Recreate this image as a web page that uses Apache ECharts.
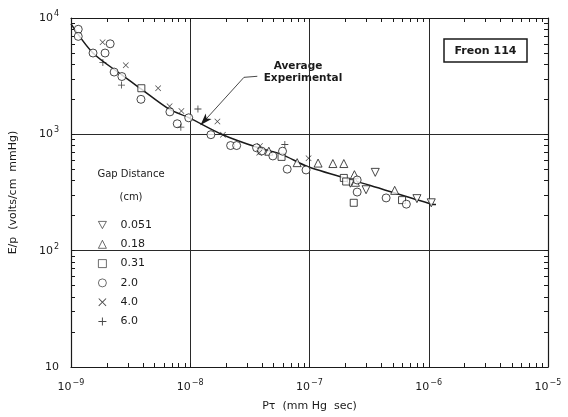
<!DOCTYPE html>
<html>
<head>
<meta charset="utf-8">
<script src="https://cdn.jsdelivr.net/npm/echarts@6/dist/echarts.min.js"></script>
<style>
  html, body { margin: 0; background: #fff; }
  #chart { width: 568px; height: 417px; }
</style>
</head>
<body>
<div id="chart"></div>
<script>
// points are [P*tau (mmHg sec), E/p (volts/cm mmHg)]
const gapNames = ['0.051', '0.18', '0.31', '2.0', '4.0', '6.0'];

const gap0051 = [[2.20e-7, 380], [2.98e-7, 334], [3.56e-7, 471], [7.96e-7, 280], [1.05e-6, 258]];
const gap018 = [[4.56e-8, 716], [7.88e-8, 571], [1.18e-7, 566], [1.57e-7, 561], [1.94e-7, 561],
                [2.38e-7, 450], [2.43e-7, 387], [5.18e-7, 330]];
const gap031 = [[3.89e-9, 2490], [5.83e-8, 640], [1.94e-7, 422], [2.03e-7, 393], [2.35e-7, 258], [5.97e-7, 272]];
const gap20 = [[1.15e-9, 8000], [1.15e-9, 6950], [1.53e-9, 5000], [2.13e-9, 6000], [1.93e-9, 5000],
               [2.30e-9, 3430], [2.67e-9, 3140], [3.86e-9, 2000], [6.75e-9, 1560], [7.78e-9, 1233],
               [9.71e-9, 1387], [1.49e-8, 993], [2.18e-8, 801], [2.45e-8, 801], [3.60e-8, 766],
               [3.96e-8, 718], [4.93e-8, 652], [5.94e-8, 716], [6.50e-8, 502], [9.35e-8, 494],
               [2.51e-7, 405], [2.51e-7, 319], [4.39e-7, 284], [6.49e-7, 251]];
const gap40 = [[1.84e-9, 6180], [2.88e-9, 3930], [5.38e-9, 2490], [6.71e-9, 1742], [8.43e-9, 1589],
               [1.69e-8, 1288], [1.88e-8, 993], [3.84e-8, 792], [3.79e-8, 695], [9.82e-8, 624]];
const gap60 = [[1.85e-9, 4140], [2.65e-9, 2650], [8.34e-9, 1153], [1.16e-8, 1652], [6.21e-8, 817]];

// "Average Experimental" curve
const avgCurve = [[1.0e-9, 8890], [1.52e-9, 5030], [2.67e-9, 3240], [3.86e-9, 2460], [6.65e-9, 1645],
                  [9.71e-9, 1393], [1.87e-8, 993], [3.74e-8, 766], [5.83e-8, 673], [9.75e-8, 526],
                  [3.24e-7, 363], [1.06e-6, 251], [1.15e-6, 249]];
// leader from the label down to the curve
const leaderLine = [[3.65e-8, 3155], [2.82e-8, 3090], [1.22e-8, 1200]];

const xExponents = [-9, -8, -7, -6, -5];
const yExponents = [1, 2, 3, 4];

const FONT = 'DejaVu Sans';
const INK = '#1a1a1a';

// minor tick positions (1..9 per decade)
function decadeTicks(lo, hi) {
    const out = [];
    for (let e = lo; e < hi; e++) {
        for (let k = 1; k <= 9; k++) out.push(k * Math.pow(10, e));
    }
    out.push(Math.pow(10, hi));
    return out;
}
const xTicks = decadeTicks(xExponents[0], xExponents[xExponents.length - 1]);
const yTicks = decadeTicks(yExponents[0], yExponents[yExponents.length - 1]);
const xMin = Math.pow(10, xExponents[0]), xMax = Math.pow(10, xExponents[xExponents.length - 1]);
const yMin = Math.pow(10, yExponents[0]), yMax = Math.pow(10, yExponents[yExponents.length - 1]);

const supRich = {
    b: { fontFamily: FONT, fontSize: 11, color: INK },
    s: { fontFamily: FONT, fontSize: 8, color: INK, padding: [0, 0, 8, 1] }
};
function powLabel(v) {
    const e = Math.round(Math.log10(v));
    if (e === 1) return '{b|10}';
    return '{b|10}{s|' + String(e).replace('-', '\u2212') + '}';
}

const hollow = { color: '#fff', borderColor: INK, borderWidth: 1 };
const solid = { color: INK };

const PLUS = 'path://M4.4,0H5.6V4.4H10V5.6H5.6V10H4.4V5.6H0V4.4H4.4Z';
const CROSS = 'path://M0.8,0L5,4.2L9.2,0L10,0.8L5.8,5L10,9.2L9.2,10L5,5.8L0.8,10L0,9.2L4.2,5L0,0.8Z';
const DOWN = 'path://M0,0L10,0L5,9Z';

function scatter(name, data, symbol, size, style) {
    return {
        name: name, type: 'scatter', data: data, symbol: symbol, symbolSize: size,
        itemStyle: style, z: 3
    };
}

// extra axes only carry the inward minor ticks / frame
function tickAxis(min, max, position, ticks, showLine) {
    return {
        type: 'log', logBase: 10, min: min, max: max, position: position,
        axisLine: { show: showLine, lineStyle: { color: INK, width: 1.2 } },
        axisTick: { show: true, inside: true, length: 4, customValues: ticks, lineStyle: { color: INK } },
        axisLabel: { show: false },
        splitLine: { show: false }
    };
}

const chart = echarts.init(document.getElementById('chart'));

chart.setOption({
    animation: false,
    backgroundColor: '#fff',
    grid: { left: 70, right: 20, top: 18, bottom: 44 },
    xAxis: [{
        type: 'log', logBase: 10, min: xMin, max: xMax, position: 'bottom',
        name: 'P\u03C4  (mm Hg  sec)', nameLocation: 'middle', nameGap: 34,
        nameTextStyle: { fontFamily: FONT, fontSize: 11, color: INK },
        axisLine: { show: true, lineStyle: { color: INK, width: 1.2 } },
        axisTick: { show: false },
        axisLabel: { margin: 12, formatter: powLabel, rich: supRich },
        splitLine: { show: true, lineStyle: { color: '#2a2a2a', width: 1 } }
    },
        tickAxis(xMin, xMax, 'top', xTicks, true),
        tickAxis(xMin, xMax, 'bottom', xTicks, false)
    ],
    yAxis: [{
        type: 'log', logBase: 10, min: yMin, max: yMax, position: 'left',
        name: 'E/p  (volts/cm  mmHg)', nameLocation: 'middle', nameGap: 52,
        nameTextStyle: { fontFamily: FONT, fontSize: 11, color: INK },
        axisLine: { show: true, lineStyle: { color: INK, width: 1.2 } },
        axisTick: { show: false },
        axisLabel: { margin: 12, formatter: powLabel, rich: supRich },
        splitLine: { show: true, lineStyle: { color: '#2a2a2a', width: 1 } }
    },
        tickAxis(yMin, yMax, 'right', yTicks, true),
        tickAxis(yMin, yMax, 'left', yTicks, false)
    ],
    legend: {
        orient: 'vertical', left: 98, top: 218, padding: 0,
        itemWidth: 8, itemHeight: 8, itemGap: 5.3,
        itemStyle: { borderWidth: 0.8 },
        textStyle: { fontFamily: FONT, fontSize: 11, color: INK, lineHeight: 14, padding: [0, 0, 0, 9] },
        data: gapNames
    },
    graphic: [
        { type: 'text', x: 131, y: 174, style: { text: 'Gap Distance', align: 'center', verticalAlign: 'middle', font: '10px "' + FONT + '"', fill: INK } },
        { type: 'text', x: 131, y: 197, style: { text: '(cm)', align: 'center', verticalAlign: 'middle', font: '10px "' + FONT + '"', fill: INK } },
        { type: 'text', x: 298, y: 66, style: { text: 'Average', align: 'center', verticalAlign: 'middle', font: 'bold 10.5px "' + FONT + '"', fill: INK } },
        { type: 'text', x: 303, y: 78, style: { text: 'Experimental', align: 'center', verticalAlign: 'middle', font: 'bold 10.5px "' + FONT + '"', fill: INK } },
        { type: 'rect', shape: { x: 444, y: 39, width: 83, height: 23 }, style: { fill: '#fff', stroke: INK, lineWidth: 1.5 } },
        { type: 'text', x: 485.5, y: 51, style: { text: 'Freon 114', align: 'center', verticalAlign: 'middle', font: 'bold 11px "' + FONT + '"', fill: INK } }
    ],
    series: [
        {
            name: 'Average Experimental', type: 'line', data: avgCurve, smooth: 0.3,
            showSymbol: false, lineStyle: { color: INK, width: 1.5 }, z: 2,
            markLine: {
                silent: true, symbol: ['none', 'arrow'], symbolSize: [6, 12],
                label: { show: false },
                lineStyle: { color: INK, width: 0.8, type: 'solid' },
                data: [
                    [{ coord: leaderLine[0], symbol: 'none' }, { coord: leaderLine[1], symbol: 'none' }],
                    [{ coord: leaderLine[1], symbol: 'none' }, { coord: leaderLine[2], symbol: 'arrow' }]
                ]
            }
        },
        scatter(gapNames[0], gap0051, DOWN, 8, hollow),
        scatter(gapNames[1], gap018, 'triangle', 8, hollow),
        scatter(gapNames[2], gap031, 'rect', 7, hollow),
        scatter(gapNames[3], gap20, 'circle', 8, hollow),
        scatter(gapNames[4], gap40, CROSS, 6, solid),
        scatter(gapNames[5], gap60, PLUS, 7, solid)
    ]
});
</script>
</body>
</html>
